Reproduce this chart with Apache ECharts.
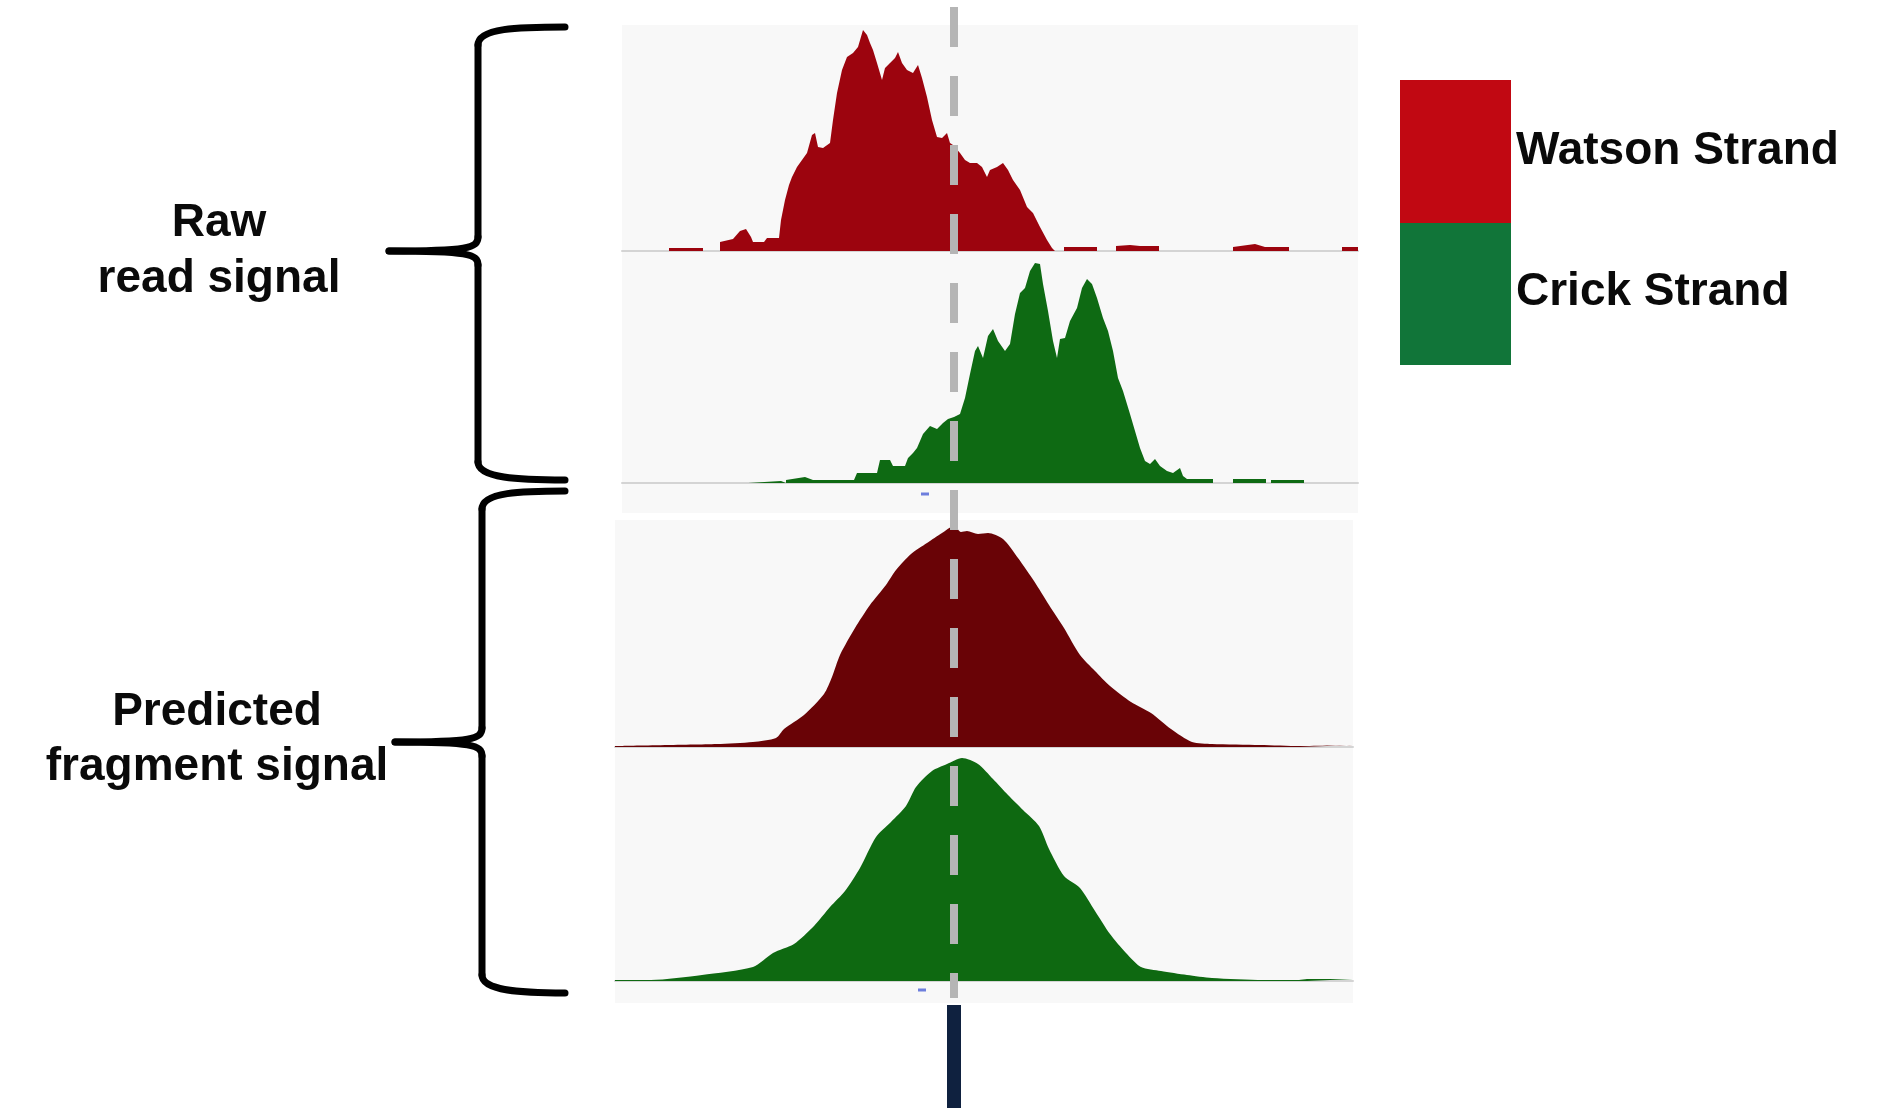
<!DOCTYPE html>
<html>
<head>
<meta charset="utf-8">
<title>Raw read signal vs predicted fragment signal</title>
<script src="https://cdn.jsdelivr.net/npm/echarts@6/dist/echarts.min.js"></script>
<style>
    html, body { margin: 0; padding: 0; background: #fff; }
    #chart { width: 1886px; height: 1108px; }
</style>
</head>
<body>
<div id="chart"></div>
<script>
// position = offset (bp) from the reference site, value = track height
const watsonRaw = [
    [-332, 0], [-285, 0], [-285, 3], [-251, 3], [-251, 0], [-234, 0], [-234, 9], [-221, 12], [-214, 20],
    [-208, 22], [-203, 14], [-201, 9], [-190, 9], [-187, 13], [-175, 13],
    [-173, 31], [-169, 51], [-165, 66], [-162, 74], [-157, 84], [-152, 91], [-147, 98], [-142, 116],
    [-139, 118], [-136, 104], [-131, 103], [-124, 108], [-121, 131], [-117, 158], [-112, 181], [-107, 194],
    [-101, 198], [-96, 204], [-91, 221], [-87, 216], [-84, 208], [-81, 201], [-77, 188], [-72, 171],
    [-69, 183], [-64, 188], [-59, 193], [-56, 199], [-52, 188], [-47, 181], [-41, 178], [-36, 186],
    [-32, 173], [-27, 154], [-22, 131], [-17, 114], [-12, 113], [-7, 118], [-4, 108], [-1, 106],
    [6, 98], [11, 91], [16, 88], [23, 88], [28, 84], [33, 74], [36, 81], [43, 84],
    [49, 88], [54, 81], [59, 71], [66, 61], [73, 44], [79, 38], [86, 24], [93, 11],
    [98, 3], [101, 0], [110, 0], [110, 4], [143, 4], [143, 0], [162, 0], [162, 5], [176, 6], [186, 5],
    [205, 5], [205, 0], [279, 0], [279, 4], [301, 7], [311, 4], [335, 4], [335, 0], [388, 0], [388, 4], [404, 4]
]
const crickRaw = [
    [-332, 0], [-206, 0], [-206, 2], [-173, 2], [-173, 0], [-168, 0], [-168, 3], [-149, 6], [-141, 3],
    [-100, 3], [-97, 10], [-77, 10], [-74, 23], [-64, 23],
    [-61, 17], [-49, 17], [-46, 25], [-41, 30], [-37, 35], [-31, 49], [-24, 57], [-17, 54], [-11, 60],
    [-6, 64], [0, 66], [6, 69], [11, 85], [16, 109], [21, 132], [24, 137], [29, 125],
    [34, 147], [39, 154], [44, 142], [51, 132], [56, 139], [61, 169], [66, 190], [71, 195],
    [76, 212], [81, 220], [86, 219], [89, 199], [94, 172], [99, 142], [103, 125], [106, 144],
    [111, 145], [116, 162], [123, 175], [128, 195], [133, 204], [138, 199], [143, 185], [149, 165],
    [154, 152], [159, 132], [164, 105], [169, 92], [176, 69], [181, 52], [186, 35], [191, 22],
    [196, 19], [201, 24], [206, 17], [213, 12], [219, 10], [226, 15], [229, 7], [233, 4],
    [259, 4], [259, 0], [279, 0], [279, 4], [312, 4], [312, 0], [317, 0], [317, 3], [350, 3], [350, 0], [404, 0]
]
const watsonPredicted = [
    [-339, 1], [-237, 3], [-201, 5], [-178, 9], [-170, 18], [-150, 32], [-130, 53], [-122, 70],
    [-114, 92], [-99, 119], [-84, 142], [-68, 162], [-58, 177], [-43, 193], [-27, 204], [-12, 214],
    [0, 221], [7, 215], [13, 216], [24, 213], [34, 214], [49, 208], [64, 189], [80, 166],
    [95, 142], [110, 119], [126, 92], [141, 76], [156, 61], [177, 45], [197, 34], [217, 18],
    [238, 5], [258, 3], [306, 2], [346, 1], [399, 2]
]
const crickPredicted = [
    [-339, 1], [-303, 1], [-252, 6], [-201, 14], [-181, 28], [-160, 37], [-140, 55], [-124, 74],
    [-109, 90], [-94, 113], [-78, 144], [-63, 159], [-48, 175], [-38, 194], [-22, 210], [-7, 217],
    [8, 223], [24, 217], [39, 202], [54, 186], [69, 171], [85, 155], [95, 132], [110, 105],
    [126, 93], [141, 70], [156, 47], [172, 28], [187, 14], [207, 10], [233, 6], [258, 3],
    [309, 1], [345, 1], [353, 2], [399, 2]
]
const rawMarks = [[-29, -11]]
const predictedMarks = [[-32, -9]]
const siteFeature = [[0, 1]]
const strandNames = ['Watson Strand', 'Crick Strand']
const groupLabels = [['Raw', 'read signal'], ['Predicted', 'fragment signal']]

const COLORS = {
    watsonRaw: '#9c040e',
    crickRaw: '#0e6a13',
    watsonPred: '#690306',
    crickPred: '#0e6911',
    watsonKey: '#c10812',
    crickKey: '#117539',
    panel: '#f8f8f8',
    baseline: '#d4d4d4',
    site: '#b5b5b5',
    feature: '#0f213f',
    mark: '#4a5fd6',
}
const FONT = '"Liberation Sans", Arial, sans-serif'

/**
 * @description one genome-browser style track (grid + axes)
 */
const makeTrack = (grid, range, yRange) => {
    return {
        grid: Object.assign({ show: true, backgroundColor: COLORS.panel, borderWidth: 0 }, grid),
        xAxis: {
            type: 'value', min: range[0], max: range[1],
            axisLine: { show: true, onZero: true, lineStyle: { color: COLORS.baseline, width: 2 } },
            axisTick: { show: false }, axisLabel: { show: false }, splitLine: { show: false },
        },
        yAxis: {
            type: 'value', min: yRange[0], max: yRange[1],
            axisLine: { show: false }, axisTick: { show: false },
            axisLabel: { show: false }, splitLine: { show: false },
        },
    }
}

const tracks = [
    makeTrack({ left: 622, top: 25, width: 736, height: 229 }, [-332, 404], [-3, 226]),
    makeTrack({ left: 622, top: 254, width: 736, height: 259 }, [-332, 404], [-30, 229]),
    makeTrack({ left: 615, top: 520, width: 738, height: 230 }, [-339, 399], [-3, 227]),
    makeTrack({ left: 615, top: 750, width: 738, height: 253 }, [-339, 399], [-22, 231]),
    makeTrack({ left: 615, top: 1005, width: 738, height: 103, show: false }, [-339, 399], [0, 1]),
]
tracks[4].xAxis.axisLine.show = false

const areaSeries = (idx, data, color, smooth) => ({
    type: 'line',
    xAxisIndex: idx,
    yAxisIndex: idx,
    data,
    smooth,
    symbol: 'none',
    lineStyle: { width: 0 },
    areaStyle: { color, opacity: 1 },
    silent: true,
    z: 3,
})

const markSeries = (idx, data) => ({
    type: 'scatter', xAxisIndex: idx, yAxisIndex: idx, data,
    symbol: 'rect', symbolSize: [8, 3], itemStyle: { color: COLORS.mark }, silent: true,
})

const chart = echarts.init(document.getElementById('chart'))

chart.setOption({
    animation: false,
    backgroundColor: '#ffffff',
    grid: tracks.map(t => t.grid),
    xAxis: tracks.map((t, i) => Object.assign({ gridIndex: i }, t.xAxis)),
    yAxis: tracks.map((t, i) => Object.assign({ gridIndex: i }, t.yAxis)),
    series: [
        areaSeries(0, watsonRaw, COLORS.watsonRaw, false),
        areaSeries(1, crickRaw, COLORS.crickRaw, false),
        areaSeries(2, watsonPredicted, COLORS.watsonPred, 0.25),
        areaSeries(3, crickPredicted, COLORS.crickPred, 0.25),
        markSeries(1, rawMarks),
        markSeries(3, predictedMarks),
        {
            type: 'bar', xAxisIndex: 4, yAxisIndex: 4, data: siteFeature,
            barWidth: 14, itemStyle: { color: COLORS.feature }, silent: true,
        },
    ],
})

// 参考位点的虚线，贯穿所有轨道
const siteX = chart.convertToPixel({ xAxisIndex: 0 }, 0)

const BRACE_STYLE = { stroke: '#000', lineWidth: 7, fill: null, lineCap: 'round' }

/**
 * @description 用bezierCurve + line拼出大括号
 */
const braceParts = (top, tip, bottom, spineX, tipX) => {
    const endX = 565
    const curve = (x1, y1, cpx1, cpy1, cpx2, cpy2, x2, y2) => ({
        type: 'bezierCurve',
        shape: { x1, y1, cpx1, cpy1, cpx2, cpy2, x2, y2 },
        style: BRACE_STYLE,
    })
    const line = (x1, y1, x2, y2) => ({
        type: 'line', shape: { x1, y1, x2, y2 }, style: BRACE_STYLE,
    })
    return [
        curve(endX, top, spineX + 40, top, spineX, top + 1, spineX, top + 18),
        line(spineX, top + 18, spineX, tip - 14),
        curve(spineX, tip - 14, spineX, tip - 3, spineX - 10, tip, tipX, tip),
        curve(tipX, tip, spineX - 10, tip, spineX, tip + 3, spineX, tip + 14),
        line(spineX, tip + 14, spineX, bottom - 18),
        curve(spineX, bottom - 18, spineX, bottom - 2, spineX + 40, bottom, endX, bottom),
    ]
}

const labelText = (text, x, y, align) => ({
    type: 'text',
    x, y,
    style: {
        text, font: `bold 46px ${FONT}`, fill: '#0a0a0a',
        align, verticalAlign: 'middle', textAlign: align, textVerticalAlign: 'middle',
    },
})

chart.setOption({
    graphic: [
        {
            type: 'line', z: 100,
            shape: { x1: siteX, y1: 7, x2: siteX, y2: 998 },
            style: { stroke: COLORS.site, lineWidth: 8, lineDash: [40, 29] },
        },
        ...braceParts(27, 251, 480, 478, 389),
        ...braceParts(491, 742, 993, 482, 395),
        labelText(groupLabels[0][0], 219, 223, 'center'),
        labelText(groupLabels[0][1], 219, 279, 'center'),
        labelText(groupLabels[1][0], 217, 712, 'center'),
        labelText(groupLabels[1][1], 217, 767, 'center'),
        { type: 'rect', shape: { x: 1400, y: 80, width: 111, height: 143 }, style: { fill: COLORS.watsonKey } },
        { type: 'rect', shape: { x: 1400, y: 223, width: 111, height: 142 }, style: { fill: COLORS.crickKey } },
        labelText(strandNames[0], 1516, 151, 'left'),
        labelText(strandNames[1], 1516, 292, 'left'),
    ],
})
</script>
</body>
</html>
